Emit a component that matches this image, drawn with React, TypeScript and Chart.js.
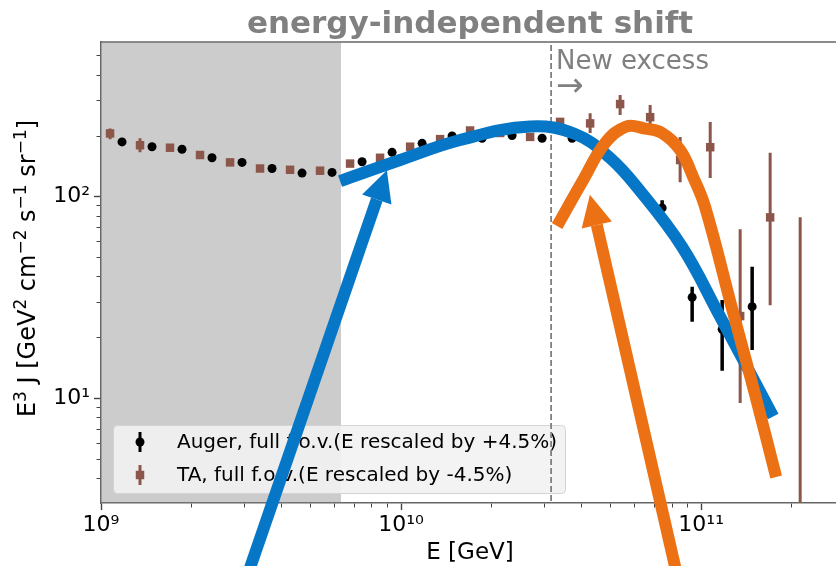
import React, { useEffect, useRef } from 'react';
import { Chart, registerables } from 'chart.js';

Chart.register(...registerables);

const FONT = 'DejaVu Sans';

// ---------- data (E in GeV, flux E^3 J) ----------
const AUGER_E = [1.175e9, 1.479e9, 1.862e9, 2.344e9, 2.951e9, 3.715e9, 4.677e9, 5.888e9, 7.413e9, 9.333e9, 1.175e10, 1.479e10, 1.862e10, 2.344e10, 2.951e10, 3.715e10, 4.677e10, 5.888e10, 7.413e10, 9.333e10, 1.175e11, 1.479e11];
const AUGER_FLUX = [187, 177, 172, 156, 148, 138, 131, 132, 149, 166, 184, 200, 195, 201, 195, 195, 166, 121, 88, 31.7, 22, 28.5];
const AUGER_LO = [183, 173, 169, 153, 146, 136, 129, 130, 147, 164, 182, 198, 193, 199, 192, 191, 162, 117, 83, 24, 13.7, 17.4];
const AUGER_HI = [191, 181, 175, 159, 150, 140, 133, 134, 151, 168, 186, 202, 197, 203, 198, 199, 170, 125, 96, 35.8, 30.8, 45];

const TA_E = [1.072e9, 1.349e9, 1.698e9, 2.138e9, 2.692e9, 3.388e9, 4.266e9, 5.37e9, 6.761e9, 8.511e9, 1.072e10, 1.349e10, 1.698e10, 2.138e10, 2.692e10, 3.388e10, 4.266e10, 5.37e10, 6.761e10, 8.511e10, 1.072e11, 1.349e11, 1.698e11, 2.138e11];
const TA_FLUX = [206, 180, 175, 161, 148, 138, 136, 134.6, 146, 156, 177, 193, 213, 207, 198, 235, 231, 288, 248, 152, 176, 25.6, 79, 2];
const TA_LO = [193, 166, 169, 156, 144, 134, 132, 130, 142, 152, 173, 189, 208, 202, 193, 214, 207, 254, 224, 118, 124, 9.5, 29, 0.01];
const TA_HI = [218, 195, 181, 166, 152, 142, 140, 139, 150, 160, 181, 197, 218, 212, 203, 246, 259, 319, 285, 198, 235, 69, 165, 79];

// hand-drawn model curves
const BLUE_E = [6.262e9, 9.924e9, 1.573e10, 2.692e10, 3.802e10, 4.973e10, 6.262e10, 8.645e10, 1.14e11, 1.738e11];
const BLUE_FLUX = [119.6, 152.1, 191.0, 222.8, 204.6, 155.6, 106.7, 56.3, 26.5, 8.13];
const ORANGE_E = [3.311e10, 4.044e10, 4.786e10, 5.623e10, 6.506e10, 7.413e10, 8.511e10, 9.404e10, 1.031e11, 1.279e11, 1.514e11, 1.778e11];
const ORANGE_FLUX = [71.6, 121, 184.6, 222.8, 217.8, 206.9, 170.4, 125.2, 88.9, 26.5, 10.4, 4.08];

// arrows: [tail, head base]
const BLUE_ARROW_E = [3.04e9, 8.3e9];
const BLUE_ARROW_FLUX = [1.26, 96.9];
const ORANGE_ARROW_E = [8.38e10, 4.49e10];
const ORANGE_ARROW_FLUX = [1.26, 72.4];

const SHADE_END_E = 6.31e9;
const EXCESS_E = 3.162e10;

const X_MIN = 1e9;
const X_MAX = 2.88e11;
const Y_MIN = 3.03;
const Y_MAX = 585;
const X_TICKS = [1e9, 2e9, 3e9, 4e9, 5e9, 6e9, 7e9, 8e9, 9e9, 1e10, 2e10, 3e10, 4e10, 5e10, 6e10, 7e10, 8e10, 9e10, 1e11, 2e11];
const Y_TICKS = [4, 5, 6, 7, 8, 9, 10, 20, 30, 40, 50, 60, 70, 80, 90, 100, 200, 300, 400, 500];

const TITLE = 'energy-independent shift';
const X_LABEL = 'E [GeV]';
// y label as [text, isSuperscript] pieces: E³ J [GeV² cm⁻² s⁻¹ sr⁻¹]
const Y_LABEL_PARTS: [string, boolean][] = [
  ['E', false], ['3', true], [' J [GeV', false], ['2', true], [' cm', false], ['−2', true],
  [' s', false], ['−1', true], [' sr', false], ['−1', true], [']', false],
];
const EXCESS_TEXT = 'New excess';
const EXCESS_ARROW = '→';
const AUGER_LABEL = 'Auger, full f.o.v.(E rescaled by +4.5%)';
const TA_LABEL = 'TA, full f.o.v.(E rescaled by -4.5%)';

const BLUE = '#0677c6';
const ORANGE = '#ec7115';
const BROWN = '#8c564b';

const SUP: Record<string, string> = { '0': '⁰', '1': '¹', '2': '²', '3': '³', '4': '⁴', '5': '⁵', '6': '⁶', '7': '⁷', '8': '⁸', '9': '⁹', '-': '⁻' };

function isPow10(v: number) {
  const l = Math.log10(v);
  return Math.abs(l - Math.round(l)) < 1e-9;
}
function powLabel(v: number) {
  if (!isPow10(v)) return '';
  const e = String(Math.round(Math.log10(v)));
  return '10' + e.split('').map((c) => SUP[c]).join('');
}
function pts(xs: number[], ys: number[]) {
  return xs.map((x, i) => ({ x, y: ys[i] }));
}
function errPts(xs: number[], lo: number[], hi: number[]) {
  const out: any[] = [];
  xs.forEach((x, i) => {
    out.push({ x, y: lo[i] }, { x, y: hi[i] }, { x, y: null });
  });
  return out;
}

const arrowPlugin = {
  id: 'arrowHeads',
  afterDatasetsDraw(chart: any) {
    const { ctx } = chart;
    chart.data.datasets.forEach((ds: any, i: number) => {
      if (!ds.arrowHead) return;
      const meta = chart.getDatasetMeta(i);
      const p = meta.data;
      const a = p[p.length - 2];
      const b = p[p.length - 1];
      const dx = b.x - a.x;
      const dy = b.y - a.y;
      const len = Math.hypot(dx, dy);
      const ux = dx / len;
      const uy = dy / len;
      const L = ds.arrowHead.length;
      const W = ds.arrowHead.width / 2;
      ctx.save();
      ctx.fillStyle = ds.borderColor;
      ctx.beginPath();
      ctx.moveTo(b.x + ux * L, b.y + uy * L);
      ctx.lineTo(b.x - uy * W, b.y + ux * W);
      ctx.lineTo(b.x + uy * W, b.y - ux * W);
      ctx.closePath();
      ctx.fill();
      ctx.restore();
    });
  },
};

function drawLegend(chart: any) {
  const { ctx, chartArea } = chart;
  const x0 = chartArea.left + 12;
  const y0 = chartArea.bottom - 78;
  const w = 452;
  const h = 68;
  ctx.save();
  ctx.beginPath();
  ctx.roundRect(x0 + 0.5, y0 + 0.5, w, h, 4);
  ctx.fillStyle = 'rgba(242,242,242,0.9)';
  ctx.fill();
  ctx.strokeStyle = '#d4d4d4';
  ctx.lineWidth = 1;
  ctx.stroke();
  const rows = [
    { label: AUGER_LABEL, color: '#000', shape: 'circle', y: y0 + 17 },
    { label: TA_LABEL, color: BROWN, shape: 'square', y: y0 + 50 },
  ];
  rows.forEach((r) => {
    const mx = x0 + 27;
    ctx.strokeStyle = r.color;
    ctx.fillStyle = r.color;
    ctx.lineWidth = 3;
    ctx.beginPath();
    ctx.moveTo(mx, r.y - 10);
    ctx.lineTo(mx, r.y + 10);
    ctx.stroke();
    ctx.beginPath();
    if (r.shape === 'circle') ctx.arc(mx, r.y, 4.5, 0, Math.PI * 2);
    else ctx.rect(mx - 4.25, r.y - 4.25, 8.5, 8.5);
    ctx.fill();
    ctx.fillStyle = '#000';
    ctx.font = `20px "${FONT}"`;
    ctx.textAlign = 'left';
    ctx.textBaseline = 'middle';
    ctx.fillText(r.label, x0 + 64, r.y + 1);
  });
  ctx.restore();
}

function drawYLabel(chart: any) {
  const { ctx, chartArea } = chart;
  const size = 24;
  const supSize = 17;
  const main = `${size}px "${FONT}"`;
  const sup = `${supSize}px "${FONT}"`;
  ctx.save();
  let total = 0;
  Y_LABEL_PARTS.forEach(([t, s]) => {
    ctx.font = s ? sup : main;
    total += ctx.measureText(t).width;
  });
  ctx.translate(35, (chartArea.top + chartArea.bottom) / 2 - 4);
  ctx.rotate(-Math.PI / 2);
  ctx.fillStyle = '#000';
  ctx.textAlign = 'left';
  ctx.textBaseline = 'alphabetic';
  let x = -total / 2;
  Y_LABEL_PARTS.forEach(([t, s]) => {
    ctx.font = s ? sup : main;
    ctx.fillText(t, x, s ? -9 : 0);
    x += ctx.measureText(t).width;
  });
  ctx.restore();
}

const decorPlugin = {
  id: 'decor',
  beforeDatasetsDraw(chart: any) {
    const { ctx, chartArea } = chart;
    ctx.save();
    ctx.strokeStyle = '#666';
    ctx.lineWidth = 1.5;
    ctx.beginPath();
    ctx.moveTo(chartArea.left, chartArea.top);
    ctx.lineTo(chartArea.right + 5, chartArea.top);
    ctx.stroke();
    ctx.restore();
    drawYLabel(chart);
  },
  afterDatasetDraw(chart: any, args: any) {
    const ds = chart.data.datasets[args.index];
    if (ds && ds.isRegion) drawLegend(chart);
  },
  afterDraw(chart: any) {
    const { ctx, chartArea, scales } = chart;
    ctx.save();
    ctx.font = `bold 31px "${FONT}"`;
    ctx.fillStyle = '#808080';
    ctx.textAlign = 'center';
    ctx.textBaseline = 'alphabetic';
    ctx.fillText(TITLE, (chartArea.left + chartArea.right) / 2, 33);
    const ex = scales.x.getPixelForValue(EXCESS_E) + 5;
    ctx.font = `26px "${FONT}"`;
    ctx.textAlign = 'left';
    ctx.fillText(EXCESS_TEXT, ex, chartArea.top + 27);
    ctx.font = `33px "${FONT}"`;
    ctx.fillText(EXCESS_ARROW, ex, chartArea.top + 54);
    ctx.restore();
  },
};

function axisCommon(ticksList: number[], left: boolean) {
  return {
    type: 'logarithmic' as const,
    afterBuildTicks: (s: any) => {
      s.ticks = ticksList.map((v) => ({ value: v, major: isPow10(v) }));
    },
    ticks: {
      autoSkip: false,
      maxRotation: 0,
      minRotation: 0,
      color: '#000',
      font: { family: FONT, size: 22 },
      callback: (v: any) => powLabel(Number(v)),
    },
    grid: {
      drawOnChartArea: false,
      drawTicks: true,
      tickLength: 7,
      tickColor: '#444',
      tickWidth: (c: any) => (c.tick && isPow10(c.tick.value) ? 1.4 : 1),
      tickBorderDash: (c: any) =>
        c.tick && isPow10(c.tick.value) ? [] : left ? [0, 2.5, 5, 30] : [4, 30],
    },
    border: { display: true, color: '#666', width: 1.5 },
  };
}

export default function App() {
  const ref = useRef<HTMLCanvasElement>(null);
  useEffect(() => {
    const common = { pointRadius: 0, pointHoverRadius: 0, fill: false };
    const chart = new Chart(ref.current as HTMLCanvasElement, {
      type: 'line',
      data: {
        datasets: [
          {
            ...common,
            data: pts(BLUE_ARROW_E, BLUE_ARROW_FLUX),
            borderColor: BLUE,
            borderWidth: 12,
            borderCapStyle: 'butt',
            clip: false,
            order: 0,
            arrowHead: { length: 31, width: 31 },
          } as any,
          {
            ...common,
            data: pts(ORANGE_ARROW_E, ORANGE_ARROW_FLUX),
            borderColor: ORANGE,
            borderWidth: 12,
            borderCapStyle: 'butt',
            clip: false,
            order: 0,
            arrowHead: { length: 31, width: 31 },
          } as any,
          {
            ...common,
            data: pts(ORANGE_E, ORANGE_FLUX),
            borderColor: ORANGE,
            borderWidth: 12,
            tension: 0.4,
            clip: false,
            order: 1,
          },
          {
            ...common,
            data: pts(BLUE_E, BLUE_FLUX),
            borderColor: BLUE,
            borderWidth: 12,
            tension: 0.4,
            clip: false,
            order: 2,
          },
          {
            data: pts(AUGER_E, AUGER_FLUX),
            showLine: false,
            pointStyle: 'circle',
            pointRadius: 4.5,
            pointBackgroundColor: '#000',
            pointBorderWidth: 0,
            order: 3,
          },
          {
            ...common,
            data: errPts(AUGER_E, AUGER_LO, AUGER_HI),
            borderColor: '#000',
            borderWidth: 3.5,
            order: 4,
          },
          {
            data: pts(TA_E, TA_FLUX),
            showLine: false,
            pointStyle: 'rect',
            pointRadius: 6,
            pointBackgroundColor: BROWN,
            pointBorderWidth: 0,
            order: 5,
          },
          {
            ...common,
            data: errPts(TA_E, TA_LO, TA_HI),
            borderColor: BROWN,
            borderWidth: 3,
            order: 6,
          },
          {
            ...common,
            data: [
              { x: EXCESS_E, y: 1 },
              { x: EXCESS_E, y: 1e4 },
            ],
            borderColor: '#808080',
            borderWidth: 1.8,
            borderDash: [6, 3],
            order: 7,
          },
          {
            pointRadius: 0,
            data: [
              { x: X_MIN, y: 1e4 },
              { x: SHADE_END_E, y: 1e4 },
            ],
            fill: 'start',
            backgroundColor: 'rgba(128,128,128,0.4)',
            borderWidth: 0,
            order: 10,
            isRegion: true,
          } as any,
        ],
      },
      options: {
        responsive: false,
        animation: false,
        devicePixelRatio: 1,
        events: [],
        layout: { padding: { left: 0, right: 11, top: 42, bottom: 0 } },
        plugins: {
          legend: { display: false },
          tooltip: { enabled: false },
          title: { display: false },
        },
        scales: {
          x: {
            ...axisCommon(X_TICKS, false),
            position: 'bottom',
            min: X_MIN,
            max: X_MAX,
            afterFit: (s: any) => {
              s.height = 63;
            },
            ticks: { ...axisCommon(X_TICKS, false).ticks, padding: 2 },
            title: {
              display: true,
              text: X_LABEL,
              color: '#000',
              font: { family: FONT, size: 23, lineHeight: 1 },
              padding: { top: 0, bottom: 1 },
            },
          } as any,
          y: {
            ...axisCommon(Y_TICKS, true),
            position: 'left',
            min: Y_MIN,
            max: Y_MAX,
            afterFit: (s: any) => {
              s.width = 101;
            },
            ticks: { ...axisCommon(Y_TICKS, true).ticks, padding: 4 },
            title: { display: false },
          } as any,
        },
      },
      plugins: [decorPlugin, arrowPlugin],
    } as any);
    return () => chart.destroy();
  }, []);

  return (
    <div
      style={{
        position: 'absolute',
        left: 0,
        top: 0,
        width: 836,
        height: 566,
        overflow: 'hidden',
        background: '#fff',
      }}
    >
      <canvas ref={ref} width={850} height={566} style={{ display: 'block', width: 850, height: 566 }} />
    </div>
  );
}
